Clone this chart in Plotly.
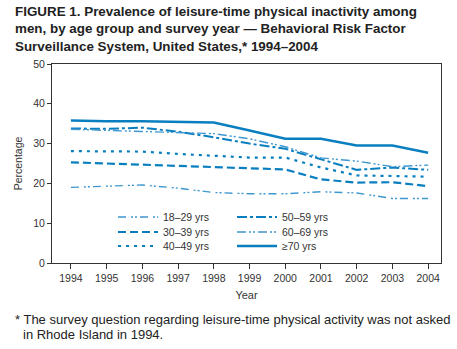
import plotly.graph_objects as go

years = [1994, 1995, 1996, 1997, 1998, 1999, 2000, 2001, 2002, 2003, 2004]
age_18_29 = [19.0, 19.3, 19.6, 18.8, 17.7, 17.4, 17.4, 17.9, 17.6, 16.2, 16.2]
age_30_39 = [25.3, 25.0, 24.8, 24.5, 24.1, 23.8, 23.5, 21.0, 20.2, 20.3, 19.3]
age_40_49 = [28.1, 28.1, 28.0, 27.4, 26.9, 26.5, 26.5, 24.0, 22.0, 21.9, 21.7]
age_50_59 = [33.8, 33.7, 34.0, 33.0, 31.6, 30.0, 28.7, 26.0, 23.4, 24.0, 23.4]
age_60_69 = [33.6, 33.3, 33.0, 32.7, 32.5, 31.2, 29.2, 26.4, 25.6, 24.2, 24.6]
age_70_up = [35.8, 35.6, 35.6, 35.5, 35.3, 33.3, 31.2, 31.2, 29.5, 29.5, 27.7]

labels = ["18–29 yrs", "30–39 yrs", "40–49 yrs", "50–59 yrs", "60–69 yrs", "≥70 yrs"]
year_ticks = [str(y) for y in years]

DARK = "#0a7fc0"
LIGHT = "#3f97cf"
FONT = "Liberation Sans"

series = [
    (age_18_29, labels[0], LIGHT, 1.4, "8px,5px,2px,2px,2px,3px"),
    (age_30_39, labels[1], DARK, 2.2, "8px,4px"),
    (age_40_49, labels[2], DARK, 2.2, "3px,5px"),
    (age_50_59, labels[3], DARK, 2.0, "10px,3px,3px,3px"),
    (age_60_69, labels[4], LIGHT, 1.4, "9px,3px,2px,2px,2px,3px"),
    (age_70_up, labels[5], DARK, 2.5, "solid"),
]

# legend placement (one legend per entry, column-wise like the original)
leg_names = ["legend", "legend2", "legend3", "legend4", "legend5", "legend6"]
row_px = [217, 232, 246]
col_px = [113, 232]

fig = go.Figure()
for i, (vals, name, color, width, dash) in enumerate(series):
    fig.add_trace(go.Scatter(
        x=years, y=vals, name=name, mode="lines",
        line=dict(color=color, width=width, dash=dash),
        legend=leg_names[i],
    ))

legends = {}
for i, ln in enumerate(leg_names):
    col, row = divmod(i, 3)
    legends[ln] = dict(
        bgcolor="rgba(0,0,0,0)", borderwidth=0,
        font=dict(family=FONT, size=10.5, color="#333333"),
        xanchor="left", yanchor="middle",
        x=(col_px[col] - 52) / 389, y=(263 - row_px[row]) / 199,
        itemwidth=40,
    )

fig.update_layout(
    width=457, height=349,
    margin=dict(l=52, r=16, t=64, b=86),
    paper_bgcolor="white", plot_bgcolor="white",
    font=dict(family=FONT, size=11, color="#333333"),
    showlegend=True,
    xaxis=dict(
        range=[1993.47, 2004.36],
        tickvals=years, ticktext=year_ticks,
        ticks="outside", ticklen=5, tickcolor="#333333",
        showline=True, linecolor="#333333", linewidth=1, mirror=True,
        showgrid=False, zeroline=False,
        tickfont=dict(family=FONT, size=10.5, color="#333333"),
        title=dict(text="Year", font=dict(family=FONT, size=11, color="#333333"), standoff=8),
    ),
    yaxis=dict(
        range=[0, 50], dtick=10,
        ticks="outside", ticklen=4, tickcolor="#333333",
        showline=True, linecolor="#333333", linewidth=1, mirror=True,
        showgrid=False, zeroline=False,
        tickfont=dict(family=FONT, size=10.5, color="#333333"),
        title=dict(text="Percentage", font=dict(family=FONT, size=10.5, color="#333333"), standoff=8),
    ),
    **legends,
)

fig.add_annotation(
    xref="paper", yref="paper", x=(13 - 52) / 389, y=(263 - 2) / 199,
    xanchor="left", yanchor="top", align="left", showarrow=False,
    text="<b>FIGURE 1. Prevalence of leisure-time physical inactivity among<br>"
         "men, by age group and survey year — Behavioral Risk Factor<br>"
         "Surveillance System, United States,* 1994–2004</b>",
    font=dict(family=FONT, size=13.4, color="#222222"),
)
fig.add_annotation(
    xref="paper", yref="paper", x=(13 - 52) / 389, y=(263 - 310) / 199,
    xanchor="left", yanchor="top", align="left", showarrow=False,
    text="* The survey question regarding leisure-time physical activity was not asked",
    font=dict(family=FONT, size=13, color="#222222"),
)
fig.add_annotation(
    xref="paper", yref="paper", x=(21 - 52) / 389, y=(263 - 325) / 199,
    xanchor="left", yanchor="top", align="left", showarrow=False,
    text="in Rhode Island in 1994.",
    font=dict(family=FONT, size=13, color="#222222"),
)

fig.write_html("out.html")
